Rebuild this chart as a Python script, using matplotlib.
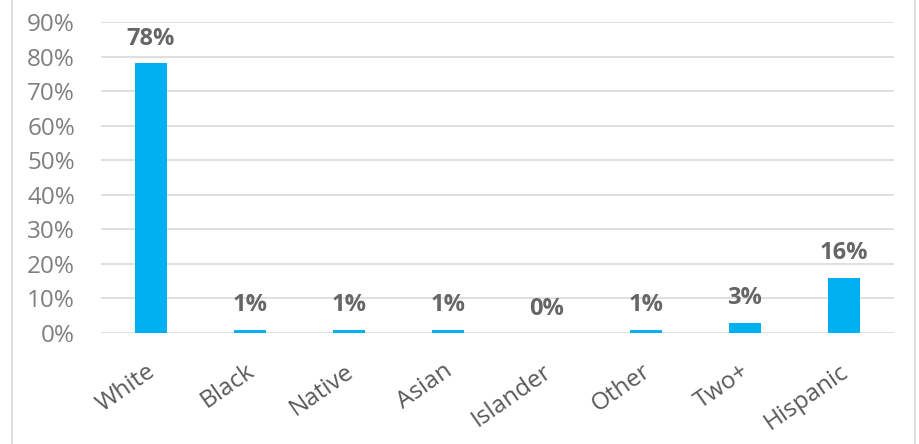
import matplotlib.pyplot as plt
from matplotlib.patches import Rectangle
import matplotlib.ticker as ticker
import matplotlib.transforms as mtransforms

categories = ["White", "Black", "Native", "Asian", "Islander", "Other", "Two+", "Hispanic"]
values = [78, 1, 1, 1, 0, 1, 3, 16]
labels = ["78%", "1%", "1%", "1%", "0%", "1%", "3%", "16%"]

BAR = "#00B0F0"
GRID = "#D9D9D9"
TICK = "#7F7F7F"
XLAB = "#595959"
LAB = "#666666"

plt.rcParams['font.family'] = ['Open Sans', 'DejaVu Sans']

fig = plt.figure(figsize=(9.2, 4.44), dpi=100)
fig.patch.set_facecolor("white")
ax = fig.add_axes([101.5/920, 1 - 333/444, 792/920, 311/444])

x = range(len(categories))
ax.bar(x, values, width=0.33, color=BAR, zorder=3, linewidth=0)

for i, (v, l) in enumerate(zip(values, labels)):
    ax.text(i, v + 3.6, l, ha="center", va="bottom", fontsize=17,
            fontweight="bold", color=LAB, zorder=4)

ax.set_xlim(-0.5, len(categories) - 0.5)
ax.set_ylim(0, 90)
ax.yaxis.set_major_locator(ticker.MultipleLocator(10))
ax.yaxis.set_major_formatter(ticker.FuncFormatter(lambda v, p: f"{int(v)}%"))
ax.tick_params(axis="y", colors=TICK, labelsize=17.5, length=0, pad=19)
ax.tick_params(axis="x", length=0, pad=19)
ax.set_xticks(list(x))
ax.set_xticklabels(categories, rotation=35, ha="right", va="top",
                   rotation_mode="anchor", fontsize=17.5, color=XLAB)
shift = mtransforms.ScaledTranslation(-5/100, 0, fig.dpi_scale_trans)
for t in ax.get_xticklabels():
    t.set_transform(t.get_transform() + shift)
ax.grid(axis="y", color=GRID, linewidth=1.2, zorder=0)
ax.set_axisbelow(True)
for s in ax.spines.values():
    s.set_visible(False)

fig.patches.append(Rectangle((12/920, -0.05), 903/920, 1.1, transform=fig.transFigure,
                             fill=False, edgecolor=GRID, linewidth=1.2))

fig.savefig("out.png", dpi=100, facecolor="white")
